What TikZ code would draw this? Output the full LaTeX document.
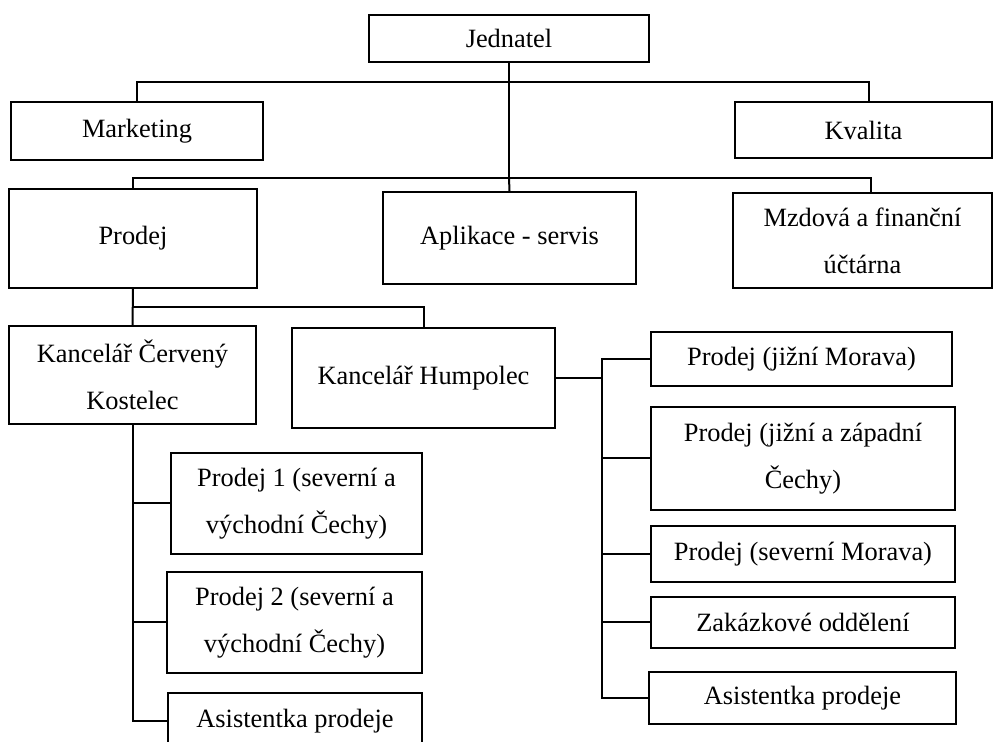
\documentclass[tikz,border=0pt]{standalone}
\usepackage{fontspec}
\setmainfont{Liberation Serif}

\begin{document}
\begin{tikzpicture}[x=0.5pt, y=-0.5pt, line width=1pt,
	every node/.style={font=\fontsize{13.2}{23.5}\selectfont},
	unit/.style 2 args={draw, inner sep=0pt, align=center, minimum width=#1*0.5pt, minimum height=#2*0.5pt}]
	\useasboundingbox (0,0) rectangle (993,742);
	\clip (0,0) rectangle (993,742);
	% top level
	\node[unit={280}{47}] (jed) at (509,38.5) {Jednatel};
	\node[unit={252}{58}] (mkt) at (137,131) {Marketing};
	\node[unit={257}{56}] (kva) at (863.5,130) {Kvalita};
	% departments
	\node[unit={248}{99}] (prodej) at (133,238.5) {Prodej};
	\node[unit={253}{92}] (apl) at (509.5,238) {Aplikace - servis};
	\node[unit={259}{95}] (mzd) at (862.5,240.5) {Mzdová a finanční\\ účtárna};
	% offices
	\node[unit={247}{98}] (kost) at (132.5,375) {Kancelář Červený\\ Kostelec};
	\node[unit={263}{100}] (hum) at (423.5,378) {Kancelář Humpolec};
	\node[unit={251}{101}] (p1) at (296.5,503.5) {Prodej 1 (severní a\\ východní Čechy)};
	\node[unit={255}{101}] (p2) at (294.5,622.5) {Prodej 2 (severní a\\ východní Čechy)};
	\node[unit={254}{57}] (as1) at (295,721.5) {Asistentka prodeje};
	\node[unit={301}{54}] (jm) at (801.5,359) {Prodej (jižní Morava)};
	\node[unit={304}{103}] (jz) at (803,458.5) {Prodej (jižní a západní\\ Čechy)};
	\node[unit={304}{56}] (sm) at (803,554) {Prodej (severní Morava)};
	\node[unit={304}{51}] (zak) at (803,622.5) {Zakázkové oddělení};
	\node[unit={307}{52}] (as2) at (802.5,698) {Asistentka prodeje};
	% connectors
	\coordinate (j1) at (509,82);
	\coordinate (j2) at (509,178);
	\coordinate (k1) at (133,307);
	\coordinate (h1) at (602,378);
	\draw (jed.south) -- (j2);
	\draw (mkt.north) |- (j1) -| ([xshift=2.75pt]kva.north);
	\draw (prodej.north) |- (j2) -| ([xshift=4.25pt]mzd.north);
	\draw (j2) -- (apl.north);
	\draw (prodej.south) -- (kost.north);
	\draw (k1) -| (hum.north);
	\foreach \n in {p1,p2,as1} \draw (kost.south) |- (\n.west);
	\draw (hum.east) -- (h1);
	\foreach \n in {jm,jz,sm,zak,as2} \draw (h1) |- (\n.west);
\end{tikzpicture}
\end{document}
